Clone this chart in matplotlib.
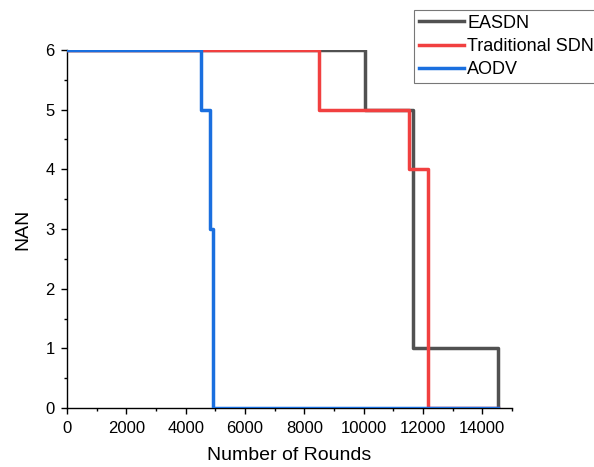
import matplotlib
matplotlib.use('Agg')
import matplotlib.pyplot as plt
from matplotlib.ticker import MultipleLocator

plt.rcParams['font.family'] = ['Liberation Sans', 'DejaVu Sans']

# step data (x where value starts, value)
easdn_x = [0, 10050, 11660, 14520]
easdn_y = [6, 5, 1, 0]
tsdn_x = [0, 8510, 11520, 12170, 14520]
tsdn_y = [6, 5, 4, 0, 0]
aodv_x = [0, 4520, 4825, 4915, 14520]
aodv_y = [6, 5, 3, 0, 0]

fig = plt.figure(figsize=(5.94, 4.67), dpi=100)
ax = fig.add_axes([0.1128, 0.1263, 0.862 - 0.1128, 0.893 - 0.1263])

lw = 2.5
ax.step(easdn_x + [easdn_x[-1]], easdn_y + [0], where='post', color='#515151', lw=lw, label='EASDN', zorder=3)
ax.step(tsdn_x, tsdn_y, where='post', color='#F14040', lw=lw, label='Traditional SDN', zorder=4)
ax.step(aodv_x, aodv_y, where='post', color='#1A6FDF', lw=lw, label='AODV', zorder=5)

ax.set_xlim(0, 15000)
ax.set_ylim(0, 6)
ax.xaxis.set_major_locator(MultipleLocator(2000))
ax.xaxis.set_minor_locator(MultipleLocator(1000))
ax.yaxis.set_major_locator(MultipleLocator(1))
ax.yaxis.set_minor_locator(MultipleLocator(0.5))
ax.tick_params(which='major', direction='out', length=4, width=1, labelsize=12, pad=5)
ax.tick_params(which='minor', direction='out', length=2.5, width=1)
ax.spines['top'].set_visible(False)
ax.spines['right'].set_visible(False)
for s in ['left', 'bottom']:
    ax.spines[s].set_linewidth(1)
for sp in ax.spines.values():
    sp.set_clip_on(False)

ax.set_xlabel('Number of Rounds', fontsize=14, labelpad=8)
ax.set_ylabel('NAN', fontsize=14, labelpad=10)

leg = fig.legend(loc='upper left', bbox_to_anchor=(414 / 594, 1 - 10 / 467), fontsize=13,
                 frameon=True, fancybox=False, edgecolor='#555555', handlelength=2.5,
                 handletextpad=0.2, borderpad=0.25, labelspacing=0.35, borderaxespad=0)
leg.get_frame().set_linewidth(0.8)

fig.savefig('out.png', dpi=100)
